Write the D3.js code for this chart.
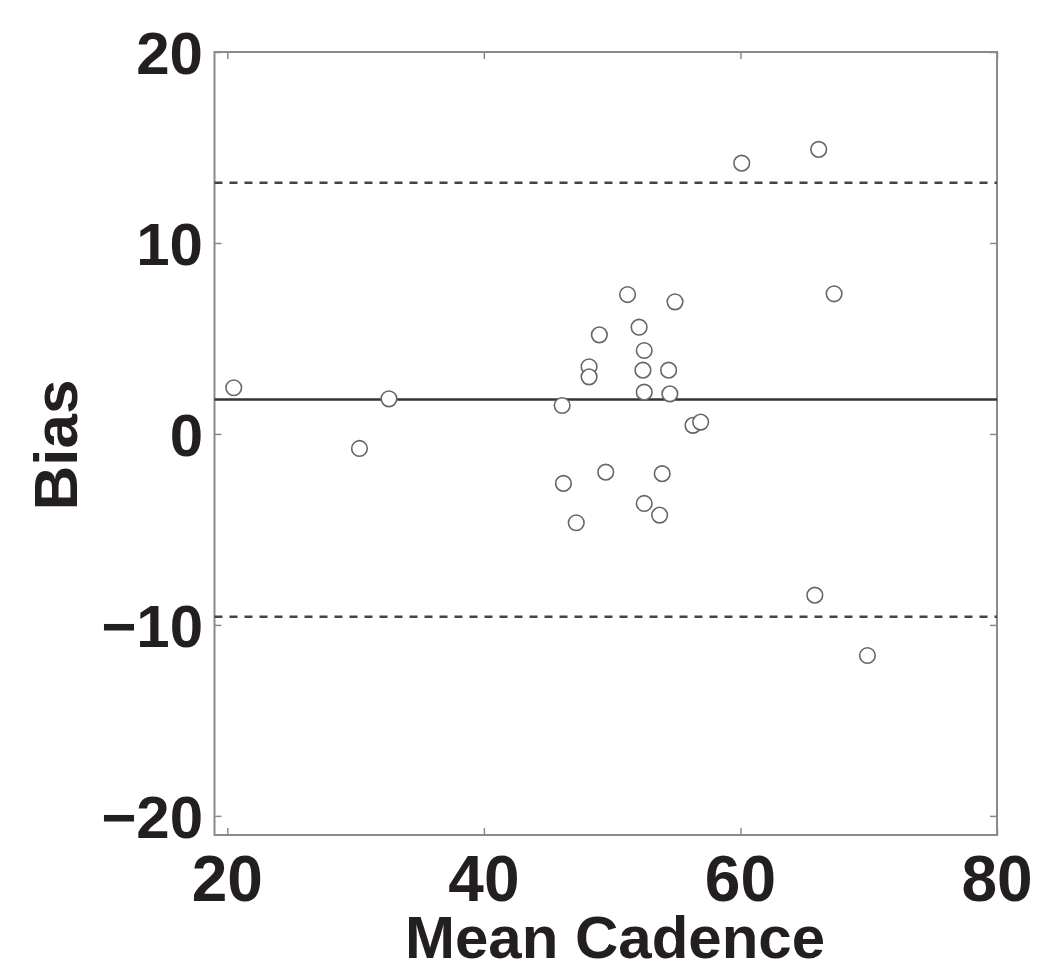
<!DOCTYPE html>
<html>
<head>
	<title>index</title>
	<meta charset="UTF-8">
	<script src="https://d3js.org/d3.v7.min.js" charset="utf-8"></script>
	<style>
		body { margin: 0; background: #fff; }
		svg { display: block; }
		text { font-family: "Liberation Sans", Arial, sans-serif; font-weight: bold; fill: #231f20; }
	</style>
</head>
<body>
<script>
	// mean cadence (x) and bias (y) per subject
	var meanCadence = [20.5, 30.3, 32.6, 46.1, 46.2, 47.2, 48.2, 48.2, 49.0, 49.5,
		51.2, 52.1, 52.5, 52.4, 52.5, 52.5, 53.7, 53.9, 54.4, 54.5,
		54.9, 56.3, 56.9, 60.1, 66.1, 67.3, 65.8, 69.9];
	var bias = [2.42, -0.76, 1.84, 1.49, -2.59, -4.65, 3.52, 2.99, 5.19, -2.0,
		7.30, 5.59, 4.37, 3.34, 2.19, -3.64, -4.25, -2.08, 3.34, 2.10,
		6.92, 0.45, 0.62, 14.18, 14.9, 7.34, -8.44, -11.6];
	var meanBias = 1.81;
	var limitsOfAgreement = [13.15, -9.57];
	var xTicks = [20, 40, 60, 80];
	var yTicks = [-20, -10, 0, 10, 20];

	var width = 1050, height = 977;
	var plotLeft = 214.5, plotRight = 997, plotTop = 52, plotBottom = 835;

	var svg = d3.select("body").append("svg").attr("width", width).attr("height", height);

	var x = d3.scaleLinear().domain([19, 80]).range([plotLeft, plotRight]);
	var y = d3.scaleLinear().domain([-21, 20]).range([plotBottom, plotTop]);

	// inner ticks on all four sides
	var tickLen = 7;
	var axisColor = "#8a8a8a";
	function styleAxis(g) {
		g.select(".domain").remove();
		g.selectAll(".tick line").attr("stroke", axisColor).attr("stroke-width", 1.5);
		g.selectAll(".tick text").remove();
	}
	svg.append("g").attr("transform", "translate(0," + plotBottom + ")")
		.call(d3.axisTop(x).tickValues(xTicks).tickSize(tickLen)).call(styleAxis);
	svg.append("g").attr("transform", "translate(0," + plotTop + ")")
		.call(d3.axisBottom(x).tickValues(xTicks).tickSize(tickLen)).call(styleAxis);
	svg.append("g").attr("transform", "translate(" + plotLeft + ",0)")
		.call(d3.axisRight(y).tickValues(yTicks).tickSize(tickLen)).call(styleAxis);
	svg.append("g").attr("transform", "translate(" + plotRight + ",0)")
		.call(d3.axisLeft(y).tickValues(yTicks).tickSize(tickLen)).call(styleAxis);

	// frame
	svg.append("rect").attr("x", plotLeft).attr("y", plotTop)
		.attr("width", plotRight - plotLeft).attr("height", plotBottom - plotTop)
		.attr("fill", "none").attr("stroke", axisColor).attr("stroke-width", 2);

	// tick labels
	svg.selectAll(".xlab").data(xTicks).enter().append("text")
		.attr("class", "xlab")
		.attr("x", function(d) { return x(d); }).attr("y", 901)
		.attr("text-anchor", "middle").attr("font-size", 64)
		.text(function(d) { return d; });
	svg.selectAll(".ylab").data(yTicks).enter().append("text")
		.attr("class", "ylab")
		.attr("x", 203).attr("y", function(d) { return y(d); })
		.attr("dy", "0.36em")
		.attr("text-anchor", "end").attr("font-size", 60)
		.text(function(d) { return d < 0 ? "\u2212" + Math.abs(d) : d; });

	// axis titles
	svg.append("text").attr("x", 615).attr("y", 958)
		.attr("text-anchor", "middle").attr("font-size", 60).text("Mean Cadence");
	svg.append("text").attr("transform", "translate(77,445) rotate(-90)")
		.attr("text-anchor", "middle").attr("font-size", 62).text("Bias");

	// mean bias and limits of agreement
	svg.append("line").attr("x1", plotLeft).attr("x2", plotRight)
		.attr("y1", y(meanBias)).attr("y2", y(meanBias))
		.attr("stroke", "#333").attr("stroke-width", 2.5);
	svg.selectAll(".loa").data(limitsOfAgreement).enter().append("line")
		.attr("class", "loa")
		.attr("x1", plotLeft).attr("x2", plotRight)
		.attr("y1", function(d) { return y(d); }).attr("y2", function(d) { return y(d); })
		.attr("stroke", "#444").attr("stroke-width", 2.5)
		.attr("stroke-dasharray", "8,7");

	// points
	svg.selectAll("circle").data(meanCadence).enter().append("circle")
		.attr("cx", function(d) { return x(d); })
		.attr("cy", function(d, i) { return y(bias[i]); })
		.attr("r", 7.8)
		.attr("fill", "#fff").attr("stroke", "#666").attr("stroke-width", 1.6);
</script>
</body>
</html>
